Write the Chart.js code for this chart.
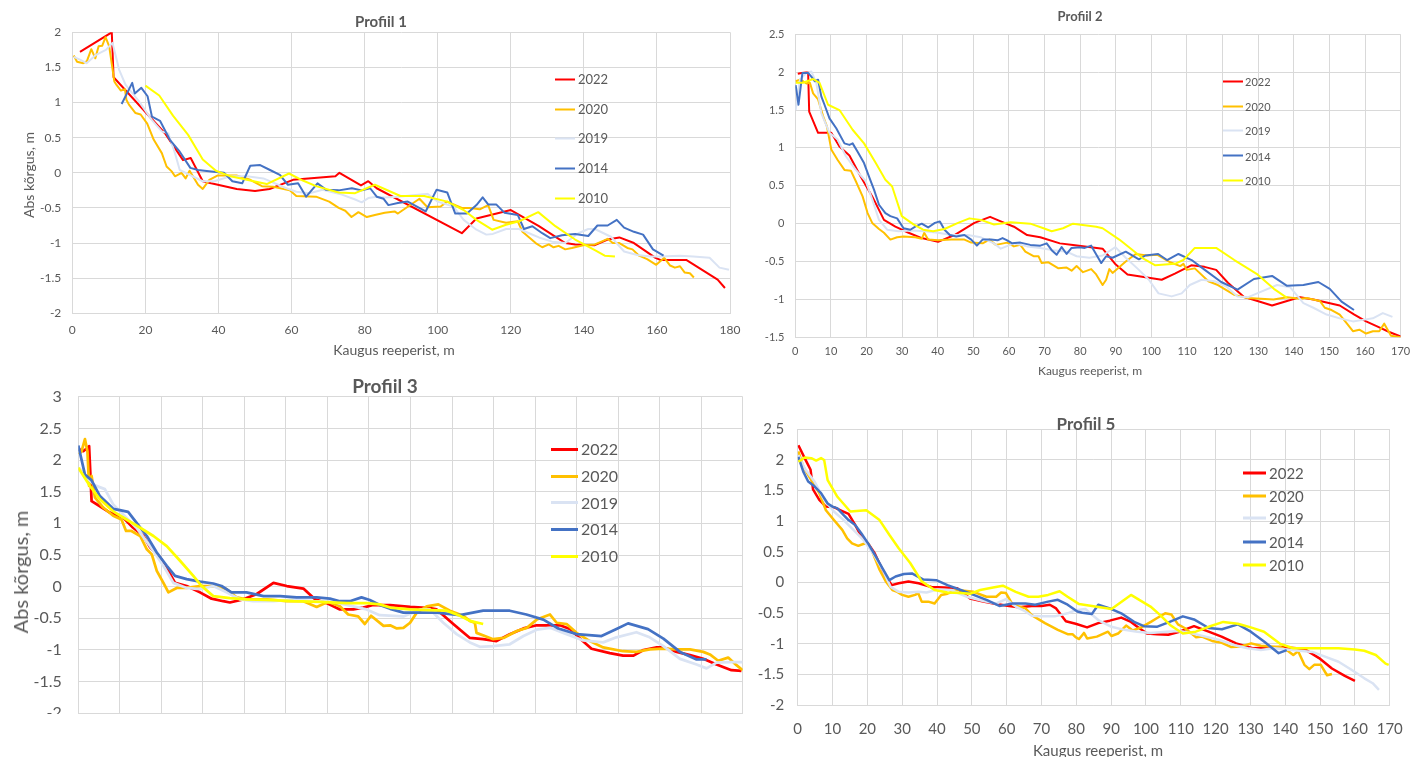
<!DOCTYPE html>
<html>
<head>
<meta charset="utf-8">
<title>Profiilid</title>
<script src="https://cdn.jsdelivr.net/npm/chart.js@4.4.1/dist/chart.umd.min.js"></script>
<style>
  html, body { margin: 0; padding: 0; background: #fff; }
  body { width: 1418px; height: 757px; position: relative; overflow: hidden;
         font-family: Lato, "Open Sans", sans-serif; color: #595959; }
  .panel { position: absolute; overflow: hidden; }
  .panel canvas { position: absolute; left: 0; top: 0; }
  .lbl { position: absolute; white-space: nowrap; line-height: 1; transform: translate(-50%, -50%); }
  .lbl.rot { transform: translate(-50%, -50%) rotate(-90deg); }
  .lbl.bold { font-weight: bold; }
  .legend { position: absolute; top: 0; }
  .legend .item { position: absolute; left: 0; display: flex; align-items: center;
                  white-space: nowrap; transform: translateY(-50%); line-height: 1; }
</style>
</head>
<body>

<div class="panel" style="left:0;top:0;width:750px;height:345px"><canvas id="c1" width="750" height="345"></canvas></div>
<div class="panel" style="left:755px;top:0;width:663px;height:385px"><canvas id="c2" width="663" height="385"></canvas></div>
<div class="panel" style="left:0;top:370px;width:750px;height:344px"><canvas id="c3" width="750" height="380"></canvas></div>
<div class="panel" style="left:755px;top:400px;width:663px;height:357px"><canvas id="c5" width="663" height="357"></canvas></div>

<div class="lbl bold" style="left:381px;top:21px;font-size:15px">Profiil 1</div>
<div class="lbl rot" style="left:29px;top:175px;font-size:14px">Abs kõrgus, m</div>
<div class="lbl" style="left:394px;top:350px;font-size:14px">Kaugus reeperist, m</div>

<div class="lbl bold" style="left:1080px;top:16px;font-size:13px">Profiil 2</div>
<div class="lbl" style="left:1090px;top:371px;font-size:12px">Kaugus reeperist, m</div>

<div class="lbl bold" style="left:385px;top:385px;font-size:19px">Profiil 3</div>
<div class="lbl rot" style="left:20px;top:572px;font-size:20px">Abs kõrgus, m</div>

<div class="lbl bold" style="left:1086px;top:423px;font-size:17px">Profiil 5</div>
<div class="lbl" style="left:1098px;top:750px;font-size:15px">Kaugus reeperist, m</div>

<div id="lg1" class="legend" style="left:555px"></div>
<div id="lg2" class="legend" style="left:1223px"></div>
<div id="lg3" class="legend" style="left:551px"></div>
<div id="lg5" class="legend" style="left:1243px"></div>

<script>
const years = ["2022", "2020", "2019", "2014", "2010"];
const colors = ["#FF0000", "#FFC000", "#DAE3F3", "#4472C4", "#FFFF00"];

// Profiil 1: [distance m, height m]
const p1_2022 = [[2.1,1.72],[10.8,2.0],[11.3,1.36],[25.4,0.56],[30.3,0.18],[32.4,0.21],[35.7,-0.12],[38,-0.15],[45,-0.23],[50,-0.26],[54,-0.23],[60.4,-0.1],[72,-0.05],[73.1,0.0],[79,-0.18],[81,-0.12],[83.3,-0.22],[106.6,-0.86],[110.6,-0.65],[120,-0.53],[127.7,-0.76],[134.9,-1.0],[137.6,-1.02],[143,-1.03],[146.5,-0.95],[149.7,-0.92],[153.7,-1.0],[159.6,-1.21],[160.9,-1.24],[168,-1.24],[176.6,-1.52],[178.6,-1.64]];
const p1_2020 = [[0.4,1.67],[1.3,1.58],[3,1.56],[4,1.59],[5.2,1.76],[6.3,1.63],[7.2,1.8],[8.2,1.81],[9.1,1.93],[10.1,1.8],[11.5,1.3],[12.1,1.25],[13.3,1.17],[14.4,1.19],[14.8,1.04],[15.5,0.97],[17.3,0.85],[18.7,0.83],[20.5,0.7],[22.3,0.47],[24.5,0.28],[25.8,0.09],[27.2,0.02],[28.1,-0.05],[29.9,0],[31,-0.08],[32.1,0.03],[34.4,-0.17],[35.7,-0.23],[37.5,-0.1],[39.7,-0.04],[45.1,-0.04],[48.7,-0.1],[51.9,-0.19],[55,-0.2],[59.5,-0.25],[61.3,-0.33],[66.7,-0.34],[70.3,-0.41],[72.9,-0.5],[74.7,-0.54],[76.4,-0.63],[78.3,-0.56],[80.6,-0.63],[82.8,-0.6],[85.5,-0.57],[88.2,-0.55],[89.1,-0.58],[95,-0.37],[97.2,-0.49],[100.8,-0.48],[102.6,-0.41],[106.6,-0.5],[108.8,-0.5],[111.5,-0.52],[113.8,-0.46],[115.3,-0.67],[118.7,-0.71],[121.9,-0.69],[123.2,-0.84],[126.8,-1.0],[128.6,-1.06],[130.4,-1.02],[131.7,-1.06],[133.1,-1.04],[134.9,-1.09],[136.7,-1.07],[139.8,-1.03],[143,-1.02],[144.8,-0.98],[146.5,-0.94],[147.9,-1.0],[149.7,-1.0],[151.9,-1.07],[153.3,-1.09],[155.1,-1.18],[157.3,-1.23],[159.8,-1.31],[162,-1.21],[163.6,-1.32],[164.9,-1.35],[166.3,-1.33],[167.6,-1.42],[169,-1.43],[170.1,-1.49]];
const p1_2019 = [[0.4,1.65],[2.1,1.61],[3.9,1.56],[6.5,1.68],[9.2,1.75],[11,1.85],[12.8,1.47],[14.6,1.25],[18.2,1.02],[21.8,0.75],[24.5,0.59],[26.3,0.56],[28.1,0.28],[29.4,0.04],[32.1,-0.03],[35.7,-0.12],[38.9,-0.12],[43.3,-0.05],[47.8,-0.05],[52.3,-0.08],[55,-0.14],[58.6,-0.22],[61.3,-0.27],[64.9,-0.29],[68.5,-0.24],[73.8,-0.31],[77.4,-0.38],[79.2,-0.42],[81,-0.36],[83.3,-0.34],[85.5,-0.35],[89.1,-0.34],[95.4,-0.31],[97.2,-0.3],[100,-0.41],[104.3,-0.48],[107.1,-0.67],[110.6,-0.81],[113.3,-0.88],[115.1,-0.87],[118.7,-0.8],[122.3,-0.8],[125,-0.86],[127.7,-0.92],[131.3,-0.98],[134.9,-1.0],[138.5,-0.86],[141.2,-0.8],[143,-0.8],[147.4,-0.91],[151,-1.12],[154.6,-1.17],[158.2,-1.19],[160.9,-1.19],[166.3,-1.18],[169.9,-1.19],[174.4,-1.21],[177.1,-1.35],[179.7,-1.38]];
const p1_2014 = [[13.5,0.98],[16.4,1.28],[17.1,1.13],[18.9,1.21],[20.6,1.09],[21.8,0.8],[24,0.74],[26.7,0.47],[29.4,0.3],[32.3,0.07],[34.4,0.04],[38,0.02],[41.5,0],[43.8,-0.12],[46.5,-0.15],[48.7,0.1],[51.4,0.11],[54.1,0.04],[56.8,-0.03],[59,-0.17],[61.8,-0.15],[64,-0.34],[67.1,-0.15],[69.4,-0.24],[72.9,-0.25],[76.5,-0.22],[79.2,-0.25],[81.5,-0.22],[83.3,-0.34],[85.2,-0.37],[86.5,-0.46],[89.1,-0.43],[91.8,-0.41],[96.7,-0.55],[99.7,-0.24],[102.6,-0.28],[104.8,-0.58],[108,-0.58],[110.6,-0.46],[112.3,-0.35],[113.8,-0.45],[116,-0.45],[118.3,-0.57],[121.9,-0.6],[123.6,-0.8],[125.9,-0.76],[128.6,-0.86],[130.8,-0.93],[134,-0.89],[137.6,-0.87],[141.2,-0.9],[143.7,-0.75],[146.5,-0.75],[149,-0.67],[151,-0.78],[153.7,-0.84],[156.2,-0.88],[158.9,-1.09],[161.8,-1.18]];
const p1_2010 = [[20,1.24],[23.8,1.1],[27.6,0.81],[31.7,0.54],[35.7,0.19],[39.3,0.03],[43.3,-0.05],[48.7,-0.11],[53.2,-0.16],[59.3,-0.01],[63.1,-0.11],[66.7,-0.19],[72.9,-0.28],[77.4,-0.29],[82.8,-0.17],[89.8,-0.33],[96.3,-0.33],[102.6,-0.41],[107.1,-0.53],[110.6,-0.67],[114.9,-0.81],[118.7,-0.74],[122.3,-0.69],[127.5,-0.56],[132.2,-0.76],[137.6,-0.95],[143,-1.1],[145.7,-1.18],[148.5,-1.19]];

// Profiil 2
const p2_2022 = [[0.7,1.98],[1.8,1.99],[3.6,2.0],[3.9,1.48],[6.4,1.2],[10.1,1.2],[12.4,1.02],[15.2,0.9],[18.4,0.62],[21.6,0.36],[24.9,0.05],[28.1,-0.04],[31.8,-0.12],[35.5,-0.19],[40.1,-0.24],[44.7,-0.15],[50.3,0.01],[54.7,0.09],[57.7,0.03],[61.4,-0.04],[65.1,-0.15],[68.8,-0.18],[74.3,-0.26],[78,-0.28],[86.3,-0.33],[90,-0.54],[93.3,-0.67],[97.4,-0.7],[102.9,-0.74],[106.6,-0.66],[111.2,-0.55],[114.9,-0.57],[118.2,-0.61],[121.5,-0.78],[126.1,-0.97],[129.8,-1.02],[133.9,-1.08],[138.1,-1.02],[141.8,-0.97],[145.5,-1.0],[149.2,-1.04],[152.9,-1.08],[157,-1.2],[160.3,-1.29],[164,-1.37],[166.8,-1.43],[170,-1.49]];
const p2_2020 = [[0.1,1.88],[1.3,1.9],[2.2,1.88],[3.1,1.85],[4.1,1.86],[5,1.72],[6.4,1.64],[7.8,1.42],[8.9,1.28],[10.1,0.98],[11.9,0.84],[13.8,0.71],[15.6,0.7],[17,0.56],[18.9,0.36],[20.3,0.14],[21.6,0.01],[23.5,-0.07],[24.9,-0.12],[26.7,-0.21],[28.6,-0.18],[30.4,-0.17],[33.7,-0.18],[35.5,-0.2],[36.2,-0.12],[37.3,-0.21],[40.1,-0.22],[43.8,-0.21],[47.5,-0.21],[49.4,-0.25],[52.6,-0.26],[54.5,-0.21],[56.3,-0.28],[59.5,-0.25],[61.4,-0.3],[63.2,-0.28],[64.6,-0.37],[66.9,-0.43],[68.3,-0.43],[69.2,-0.52],[71.1,-0.51],[73.9,-0.59],[76.2,-0.58],[77.6,-0.62],[79,-0.56],[80.8,-0.64],[83.1,-0.6],[84.5,-0.67],[86.3,-0.81],[87.3,-0.74],[88.2,-0.6],[89.1,-0.65],[92.8,-0.5],[95.6,-0.4],[98.8,-0.42],[101.6,-0.41],[105.3,-0.51],[108.1,-0.56],[109,-0.53],[109.9,-0.61],[112.2,-0.59],[116,-0.76],[118.7,-0.81],[123.3,-0.94],[127,-0.98],[130.7,-0.99],[134.3,-1.0],[138.1,-0.97],[141.8,-0.99],[143.6,-0.98],[147.3,-1.02],[148.7,-1.11],[150.6,-1.14],[152.9,-1.2],[154.6,-1.3],[156.6,-1.42],[158.4,-1.4],[160.3,-1.45],[162.2,-1.42],[164,-1.42],[165.4,-1.32],[167.3,-1.48],[170,-1.5]];
const p2_2019 = [[0.1,1.5],[1.3,1.9],[3.1,1.99],[4.5,2.01],[5.9,1.86],[7.3,1.46],[9.6,1.2],[11.9,1.11],[14.2,0.89],[17,0.71],[19.8,0.56],[21.6,0.32],[23.5,0.05],[25.8,-0.08],[29,-0.1],[32.7,-0.09],[36.4,-0.1],[40.1,-0.12],[43.8,-0.15],[48.4,-0.15],[52.1,-0.18],[55.8,-0.26],[57.7,-0.33],[61.4,-0.26],[65.1,-0.3],[68.8,-0.32],[72.5,-0.35],[76.2,-0.37],[79,-0.43],[82.6,-0.45],[86.3,-0.42],[89.9,-0.31],[92.8,-0.45],[96.5,-0.61],[99.3,-0.74],[102,-0.92],[105.7,-0.96],[108.5,-0.92],[110.8,-0.81],[114.1,-0.74],[117.8,-0.76],[121,-0.83],[124.2,-0.96],[127.2,-0.97],[130.2,-0.91],[135.3,-0.81],[139,-0.84],[142.7,-1.05],[145.5,-1.11],[149.2,-1.2],[152.9,-1.25],[156.6,-1.29],[159.4,-1.27],[162.2,-1.25],[165,-1.18],[167.7,-1.23]];
const p2_2014 = [[0.1,1.83],[0.9,1.57],[2,1.99],[3.6,1.99],[4.5,1.94],[5.5,1.88],[6.4,1.9],[7.3,1.68],[8.2,1.57],[9.6,1.39],[11.5,1.26],[13.8,1.06],[15.2,1.04],[16.1,1.06],[17.5,0.95],[19.3,0.8],[20.7,0.62],[22.1,0.45],[23.5,0.25],[25.3,0.14],[26.7,0.1],[28.6,0.07],[30.4,-0.06],[32.3,-0.08],[33.7,-0.04],[35.5,0],[37.3,-0.05],[39.2,0.01],[40.6,0.03],[41.9,-0.08],[43.4,-0.15],[45.2,-0.17],[47.5,-0.15],[49.4,-0.21],[51,-0.29],[52.6,-0.21],[54.9,-0.21],[56.8,-0.22],[58.2,-0.19],[59.5,-0.22],[60.9,-0.26],[63.2,-0.25],[66,-0.28],[68.8,-0.29],[70.6,-0.26],[72,-0.35],[73.4,-0.41],[74.8,-0.31],[76.2,-0.4],[77.6,-0.32],[79.9,-0.31],[81.3,-0.32],[83.1,-0.29],[85.9,-0.52],[87.3,-0.43],[89.1,-0.45],[92.8,-0.37],[96.5,-0.47],[98.3,-0.42],[101.9,-0.4],[104.4,-0.48],[107.6,-0.4],[111.3,-0.48],[115,-0.61],[119.6,-0.77],[124.2,-0.87],[128.8,-0.73],[133.9,-0.69],[138.1,-0.82],[142.7,-0.81],[146.9,-0.77],[150.1,-0.86],[153.4,-1.03],[156.9,-1.14]];
const p2_2010 = [[0.1,1.86],[2.2,1.86],[5,1.91],[6.8,1.86],[9.2,1.57],[12.4,1.5],[16.1,1.24],[19.3,1.06],[22.6,0.8],[25.3,0.58],[27.2,0.49],[29.9,0.1],[33.2,-0.01],[35.9,-0.08],[38.7,-0.1],[41.9,-0.07],[45.7,0.01],[48.9,0.07],[52.1,0.05],[55.8,-0.01],[60.5,0.02],[66,0],[69.7,-0.06],[72,-0.1],[75.2,-0.06],[78,0],[84.5,-0.04],[86.3,-0.06],[91,-0.21],[97.4,-0.45],[101.1,-0.55],[106.6,-0.53],[109,-0.48],[112.2,-0.32],[118.2,-0.32],[123.3,-0.48],[129.8,-0.67],[134.4,-0.86],[138.1,-0.98]];

// Profiil 3
const p3_2022 = [[0.2,2.17],[1.2,2.14],[2.2,2.19],[2.6,2.22],[3.2,1.35],[5.2,1.27],[7.6,1.17],[10.8,1.09],[13.2,0.93],[15.7,0.8],[17.3,0.62],[19.7,0.46],[21.7,0.25],[23.3,0.06],[26.1,0.01],[29.3,-0.09],[32.1,-0.19],[34.9,-0.23],[36.5,-0.25],[39.7,-0.2],[42.9,-0.12],[47,0.06],[50.2,0.01],[54.2,-0.03],[57,-0.2],[59.8,-0.26],[63,-0.36],[66.2,-0.36],[68.6,-0.33],[71,-0.29],[75.1,-0.29],[79.9,-0.32],[84.7,-0.34],[86.3,-0.36],[90.3,-0.59],[94.3,-0.81],[97.5,-0.83],[100.7,-0.86],[103.9,-0.75],[107.2,-0.66],[110.4,-0.61],[116,-0.61],[118.4,-0.67],[120.8,-0.82],[123.6,-0.98],[128,-1.05],[131.2,-1.09],[133.7,-1.09],[136.1,-1.0],[139.3,-0.96],[140.9,-0.96],[144.1,-1.03],[147.3,-1.08],[150.5,-1.14],[153.7,-1.23],[157.3,-1.32],[159.7,-1.33]];
const p3_2020 = [[0.2,2.09],[0.8,2.14],[1.6,2.33],[2.2,2.14],[2.6,1.59],[3.2,1.75],[4,1.41],[6,1.25],[8.4,1.12],[10.4,1.06],[11.5,0.88],[12.8,0.88],[14.9,0.8],[16.5,0.59],[17.7,0.51],[18.9,0.25],[20.5,0.06],[21.7,-0.09],[23.7,-0.02],[26.1,-0.02],[29.3,0.01],[32.5,0.01],[35.7,-0.04],[38.1,-0.17],[40.5,-0.2],[45.4,-0.2],[50.2,-0.23],[54.2,-0.23],[57.4,-0.32],[60.2,-0.24],[63,-0.31],[65,-0.44],[67.4,-0.47],[69,-0.59],[70.5,-0.46],[73.5,-0.62],[75.1,-0.61],[76.7,-0.66],[78.3,-0.65],[79.9,-0.57],[81.5,-0.41],[83.9,-0.31],[86.7,-0.28],[89.5,-0.38],[92.7,-0.46],[94.3,-0.54],[95.5,-0.57],[95.9,-0.73],[97.9,-0.78],[99.9,-0.83],[102.4,-0.81],[105.6,-0.7],[108,-0.65],[110.4,-0.52],[113.6,-0.44],[115.2,-0.57],[117.6,-0.59],[120,-0.73],[123.2,-0.86],[126.4,-0.96],[131.2,-1.02],[134.4,-1.03],[137.6,-0.99],[140.9,-0.98],[144.1,-0.99],[147.3,-0.99],[150.5,-1.03],[152.1,-1.07],[154.1,-1.17],[156.5,-1.12],[158.5,-1.24],[160,-1.32]];
const p3_2019 = [[0.2,1.88],[2,1.72],[4,1.6],[6.4,1.54],[8.4,1.3],[10.8,1.14],[14,0.93],[17.3,0.64],[20.5,0.33],[22.9,0.06],[26.1,-0.02],[29.3,-0.04],[32.5,0.01],[35.7,-0.09],[38.9,-0.2],[42.1,-0.23],[47,-0.23],[51.8,-0.2],[56.6,-0.23],[61.4,-0.24],[66.2,-0.31],[69.4,-0.36],[72.6,-0.45],[78.3,-0.47],[82.3,-0.36],[84.7,-0.36],[87.9,-0.57],[91.1,-0.75],[94.3,-0.88],[96.7,-0.95],[99.9,-0.94],[103.9,-0.91],[107.2,-0.78],[110.4,-0.68],[113.6,-0.65],[116.8,-0.73],[121.6,-0.85],[126.4,-0.88],[129.6,-0.8],[134.4,-0.72],[137.6,-0.8],[140.9,-0.94],[144.9,-1.14],[148.9,-1.23],[151.3,-1.29],[153.7,-1.2],[156.9,-1.19],[160,-1.19]];
const p3_2014 = [[0,2.23],[1.6,1.77],[3.2,1.68],[5.2,1.43],[8.4,1.23],[10,1.21],[12,1.18],[14,1.01],[16.5,0.8],[18.9,0.54],[21.3,0.33],[23.3,0.17],[26.1,0.12],[29.3,0.08],[32.5,0.05],[34.5,0.01],[36.9,-0.09],[40.5,-0.09],[44.6,-0.15],[48.6,-0.15],[52.6,-0.17],[57.4,-0.17],[60.6,-0.19],[63,-0.23],[65.4,-0.23],[68.2,-0.17],[70.2,-0.21],[72.6,-0.29],[75.1,-0.35],[78.3,-0.41],[82.3,-0.41],[86.3,-0.41],[91.9,-0.45],[97.5,-0.38],[103.9,-0.38],[107.9,-0.44],[112,-0.52],[115.6,-0.66],[120,-0.75],[126,-0.78],[129.6,-0.67],[132.4,-0.58],[137.2,-0.67],[140.9,-0.82],[144.9,-1.03],[148.9,-1.15],[151.3,-1.15]];
const p3_2010 = [[0,1.88],[2.8,1.59],[5.2,1.38],[8.4,1.19],[11.6,1.06],[14.9,0.93],[18.1,0.8],[21.3,0.64],[24.5,0.41],[27.7,0.17],[29.7,0.01],[32.5,-0.15],[36.5,-0.18],[40.5,-0.2],[45.4,-0.21],[51.8,-0.23],[58.2,-0.24],[64.6,-0.26],[69.4,-0.26],[72.6,-0.28],[75.1,-0.33],[79.9,-0.36],[84.7,-0.37],[88.7,-0.38],[91.9,-0.46],[94.3,-0.54],[97.5,-0.59]];

// Profiil 5
const p5_2022 = [[0.2,2.24],[2,2.03],[3.7,1.84],[4.4,1.52],[6.2,1.35],[8.1,1.24],[10.4,1.23],[12.3,1.18],[14.6,1.12],[16.5,0.94],[18.3,0.75],[20.2,0.64],[22.1,0.48],[23.9,0.26],[25.3,0.1],[27,-0.04],[29,-0.01],[31.8,0.02],[34.7,-0.01],[38.4,-0.07],[42.1,-0.08],[45.8,-0.09],[49.5,-0.26],[53.3,-0.31],[57,-0.35],[60.7,-0.38],[63.5,-0.4],[67.2,-0.38],[70,-0.38],[72.4,-0.36],[74.2,-0.42],[77,-0.63],[79.8,-0.67],[83.1,-0.73],[86.3,-0.66],[89.6,-0.62],[92.9,-0.57],[95.7,-0.64],[98,-0.74],[100.3,-0.83],[103.1,-0.84],[106.4,-0.85],[109.6,-0.8],[113.8,-0.71],[118,-0.8],[121.7,-0.88],[125.9,-0.99],[130.6,-1.07],[134.8,-1.06],[138.6,-1.05],[143.2,-1.07],[146,-1.1],[149.7,-1.23],[153.4,-1.4],[157.1,-1.52],[160,-1.6]];
const p5_2020 = [[0.2,2.14],[1.6,1.89],[3.9,1.67],[6.2,1.46],[8.1,1.18],[10.4,1.02],[12.8,0.86],[14.2,0.72],[15.6,0.64],[17.4,0.6],[18.8,0.63],[20.2,0.64],[21.6,0.48],[23.5,0.21],[25.3,0.02],[27.2,-0.12],[28.6,-0.15],[30,-0.2],[31.8,-0.23],[33.7,-0.2],[34.6,-0.17],[35.6,-0.31],[37.5,-0.31],[39.3,-0.34],[41.2,-0.2],[43,-0.18],[45.8,-0.12],[50.5,-0.15],[54.2,-0.23],[57,-0.23],[58.4,-0.16],[59.8,-0.17],[61.7,-0.36],[65.4,-0.42],[67.2,-0.53],[71,-0.66],[74.7,-0.77],[77.5,-0.84],[78.9,-0.84],[79.8,-0.89],[80.8,-0.92],[82.2,-0.82],[83.1,-0.91],[85.9,-0.88],[89.1,-0.8],[90.1,-0.87],[92,-0.83],[94.3,-0.7],[96.2,-0.78],[98.6,-0.73],[101.4,-0.64],[103.1,-0.58],[105.5,-0.5],[107.3,-0.52],[109.2,-0.68],[111.1,-0.74],[114.4,-0.89],[116.1,-0.88],[119,-0.95],[121.8,-0.98],[124.5,-1.05],[127.4,-1.04],[130.2,-0.99],[133,-1.03],[135.7,-1.04],[138.6,-1.05],[140.4,-1.1],[142.3,-1.18],[143.7,-1.12],[145.5,-1.34],[146.9,-1.41],[148.3,-1.34],[150.2,-1.34],[152,-1.51],[153.4,-1.49]];
const p5_2019 = [[0.2,2.08],[2,1.86],[4.8,1.65],[7.6,1.35],[10.4,1.16],[13.2,1.02],[16,0.86],[18.8,0.7],[21.6,0.48],[24.4,0.21],[26.7,-0.07],[29,-0.15],[31.8,-0.16],[34.7,-0.15],[37,-0.16],[40.2,-0.11],[44,-0.12],[48.6,-0.23],[53.3,-0.3],[57,-0.34],[59.8,-0.27],[62.6,-0.39],[65.4,-0.47],[67.2,-0.54],[70,-0.55],[73.8,-0.55],[77.5,-0.5],[79.8,-0.45],[82.6,-0.43],[86.3,-0.61],[90.1,-0.72],[93.8,-0.77],[97.5,-0.8],[101.3,-0.82],[105.9,-0.8],[109.6,-0.79],[113.4,-0.83],[117.1,-0.88],[120.8,-0.93],[125.5,-1.02],[129.2,-1.07],[133,-1.1],[136.7,-1.07],[140.4,-1.09],[144.1,-1.11],[147.8,-1.13],[151.6,-1.21],[155.3,-1.29],[159,-1.42],[162.7,-1.56],[165.1,-1.64],[166.9,-1.75]];
const p5_2014 = [[0.2,2.05],[1.6,1.81],[3,1.65],[4.8,1.57],[6.7,1.46],[8.6,1.29],[10,1.24],[11.4,1.21],[13.2,1.1],[14.6,1.02],[16.5,0.94],[18.3,0.8],[20.2,0.64],[22.5,0.42],[24.4,0.23],[26.3,0.04],[28.1,0.1],[30.5,0.14],[32.8,0.15],[36.1,0.05],[39.8,0.04],[43,-0.04],[46.8,-0.12],[50.5,-0.2],[54.2,-0.28],[57.9,-0.38],[61.7,-0.34],[65.4,-0.34],[68.2,-0.36],[71.9,-0.31],[74.7,-0.28],[77.5,-0.36],[80.3,-0.47],[81.7,-0.49],[84.5,-0.51],[86.3,-0.36],[89.6,-0.42],[92.9,-0.5],[96.6,-0.64],[99.4,-0.71],[103.1,-0.72],[106.8,-0.64],[110.6,-0.55],[113.8,-0.6],[118,-0.74],[121.8,-0.76],[126.4,-0.68],[130.1,-0.8],[133.9,-0.96],[138.1,-1.15],[140.4,-1.1]];
const p5_2010 = [[0.2,1.97],[2,2.04],[3.9,2.03],[5.3,1.99],[6.7,2.03],[7.6,2.0],[8.6,1.67],[11.4,1.4],[15.1,1.16],[19.7,1.18],[23.5,1.02],[26.3,0.78],[29,0.56],[32.3,0.32],[35.6,0.02],[39.3,-0.12],[43,-0.16],[46.8,-0.17],[49.6,-0.18],[52.4,-0.12],[56.1,-0.08],[58.9,-0.05],[62.6,-0.15],[66.3,-0.23],[69.1,-0.23],[71.9,-0.2],[75.2,-0.14],[77.5,-0.23],[80.8,-0.35],[84.5,-0.38],[90.1,-0.43],[95.7,-0.2],[101.3,-0.39],[104.1,-0.53],[106.9,-0.69],[110.6,-0.83],[114.3,-0.8],[118,-0.72],[122.2,-0.64],[126.4,-0.67],[130.1,-0.73],[133.9,-0.8],[138.6,-1.0],[142.3,-1.07],[146,-1.07],[150.7,-1.07],[155.3,-1.07],[160,-1.09],[162.7,-1.11],[166,-1.18],[168.8,-1.32],[169.7,-1.34]];

const gridColor = "#D9D9D9";
const tickColor = "#595959";
const fontFamily = "Lato, 'Open Sans', sans-serif";

function makeChart(canvasId, series, o) {
    return new Chart(document.getElementById(canvasId), {
        type: "scatter",
        data: {
            datasets: series.map((pts, i) => ({
                label: years[i],
                data: pts.map(([x, y]) => ({ x, y })),
                borderColor: colors[i],
                backgroundColor: colors[i],
                borderWidth: o.lineWidth,
                borderJoinStyle: "round",
                showLine: true,
                pointRadius: 0,
                pointHoverRadius: 0,
                tension: 0,
                // later years are drawn on top
                order: series.length - i,
            })),
        },
        options: {
            responsive: false,
            animation: false,
            devicePixelRatio: 1,
            events: [],
            layout: { padding: { top: o.padTop, right: o.padRight, left: 0, bottom: 0 } },
            plugins: { legend: { display: false }, tooltip: { enabled: false } },
            scales: {
                x: {
                    type: "linear",
                    min: o.xMin,
                    max: o.xMax,
                    ticks: {
                        stepSize: o.xStep,
                        display: o.xLabels,
                        autoSkip: false,
                        maxRotation: 0,
                        padding: o.xPad,
                        color: tickColor,
                        font: { family: fontFamily, size: o.tickSize },
                    },
                    grid: { color: gridColor, drawTicks: false },
                    border: { color: gridColor },
                    afterFit: (s) => { s.height = o.xHeight; },
                },
                y: {
                    type: "linear",
                    min: o.yMin,
                    max: o.yMax,
                    ticks: {
                        stepSize: 0.5,
                        autoSkip: false,
                        padding: o.yPad,
                        color: tickColor,
                        font: { family: fontFamily, size: o.tickSize },
                        callback: (v) => String(Math.round(v * 100) / 100),
                    },
                    grid: { color: gridColor, drawTicks: false },
                    border: { color: gridColor },
                    afterFit: (s) => { s.width = o.yWidth; },
                },
            },
        },
    });
}

// legend built from the chart's own datasets
function buildLegend(chart, boxId, rows, lineLen, lineWidth, fontSize, gap) {
    const box = document.getElementById(boxId);
    chart.data.datasets.forEach((ds, i) => {
        const item = document.createElement("div");
        item.className = "item";
        item.style.top = rows[i] + "px";
        item.style.fontSize = fontSize + "px";
        const sw = document.createElement("span");
        sw.style.display = "inline-block";
        sw.style.width = lineLen + "px";
        sw.style.height = lineWidth + "px";
        sw.style.background = ds.borderColor;
        sw.style.marginRight = gap + "px";
        const txt = document.createElement("span");
        txt.textContent = ds.label;
        item.appendChild(sw);
        item.appendChild(txt);
        box.appendChild(item);
    });
}

const chart1 = makeChart("c1", [p1_2022, p1_2020, p1_2019, p1_2014, p1_2010], {
    xMin: 0, xMax: 180, xStep: 20, yMin: -2, yMax: 2, xLabels: true,
    padTop: 32.3, padRight: 9.5, yWidth: 72.3, xHeight: 31.7,
    yPad: 11, xPad: 9.5, tickSize: 12, lineWidth: 2,
});
const chart2 = makeChart("c2", [p2_2022, p2_2020, p2_2019, p2_2014, p2_2010], {
    xMin: 0, xMax: 170, xStep: 10, yMin: -1.5, yMax: 2.5, xLabels: true,
    padTop: 34.3, padRight: 9.7, yWidth: 40.3, xHeight: 47.7,
    yPad: 11, xPad: 7.8, tickSize: 11, lineWidth: 2,
});
const chart3 = makeChart("c3", [p3_2022, p3_2020, p3_2019, p3_2014, p3_2010], {
    xMin: 0, xMax: 160, xStep: 10, yMin: -2, yMax: 3, xLabels: false,
    padTop: 26.7, padRight: 7.3, yWidth: 78.3, xHeight: 36.7,
    yPad: 16.5, xPad: 8, tickSize: 16, lineWidth: 2.75,
});
const chart5 = makeChart("c5", [p5_2022, p5_2020, p5_2019, p5_2014, p5_2010], {
    xMin: 0, xMax: 170, xStep: 10, yMin: -2, yMax: 2.5, xLabels: true,
    padTop: 29.3, padRight: 12, yWidth: 42.7, xHeight: 51.7,
    yPad: 13.4, xPad: 15.2, tickSize: 15, lineWidth: 2.5,
});

buildLegend(chart1, "lg1", [79.3, 109, 138.3, 168.3, 198.3], 20, 2, 13, 3);
buildLegend(chart2, "lg2", [81, 106, 130.3, 155.7, 180], 20, 2, 11, 2);
buildLegend(chart3, "lg3", [449.3, 476, 502.7, 529.3, 556], 27, 3, 16, 3);
buildLegend(chart5, "lg5", [473, 495.7, 518.3, 541.7, 565], 23, 3, 15, 3);
</script>
</body>
</html>
